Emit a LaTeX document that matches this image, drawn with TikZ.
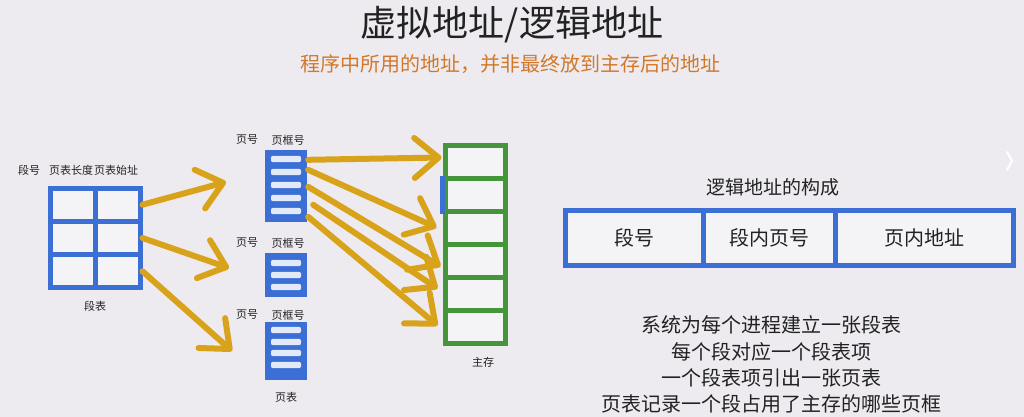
\documentclass[tikz,border=0pt]{standalone}
\usepackage{fontspec}
\setmainfont{Noto Sans CJK SC}
\usetikzlibrary{arrows.meta,calc}

\definecolor{bg}{HTML}{EDEBEF}
\definecolor{sblue}{HTML}{3B6FD6}
\definecolor{sgreen}{HTML}{45963A}
\definecolor{syellow}{HTML}{D8A31A}
\definecolor{sorange}{HTML}{D2782A}
\definecolor{ink}{HTML}{222222}

\begin{document}
\begin{tikzpicture}[x=1pt,y=-1pt,
  lbl/.style={font=\fontsize{11}{13}\selectfont, text=ink, inner sep=0},
  body/.style={font=\fontsize{20}{24}\selectfont, text=ink, inner sep=0},
  segcell/.style={draw=sblue, line width=5pt, minimum width=45pt, minimum height=33.3pt, inner sep=0, fill=white!40!bg},
  ptab/.style={fill=sblue, inner sep=0, minimum width=42pt},
  slot/.style={fill=white!85!sblue, rounded corners=2pt},
  frame/.style={draw=sgreen, line width=5pt, minimum width=60pt, minimum height=33pt, inner sep=0, fill=white!40!bg},
  addrbox/.style={draw=sblue, line width=5pt, minimum height=55pt, inner sep=0, fill=white!40!bg, font=\fontsize{20}{24}\selectfont, text=ink},
  yarrow/.style={draw=syellow, line width=6pt, line cap=round, line join=round,
     -{Straight Barb[length=24pt,width=40pt,round]}},
]
\useasboundingbox (0,0) rectangle (1024,417);
\fill[bg] (0,0) rectangle (1024,417);

% title
\node[font=\fontsize{36}{40}\selectfont, text=ink, inner sep=0] (title) at (512,25) {虚拟地址/逻辑地址};
\node[font=\fontsize{20}{24}\selectfont, text=sorange, inner sep=0] (subtitle) at (510,64) {程序中所用的地址，并非最终放到主存后的地址};

% segment table
\node[segcell] (s11) at (72.5,204.7) {};
\node[segcell] (s12) at (117.5,204.7) {};
\node[segcell] (s21) at (72.5,238) {};
\node[segcell] (s22) at (117.5,238) {};
\node[segcell] (s31) at (72.5,271.3) {};
\node[segcell] (s32) at (117.5,271.3) {};
\node[lbl] (lsn) at (29,170) {段号};
\node[lbl] (lplen) at (71,170) {页表长度};
\node[lbl] (lpadr) at (116,170) {页表始址};
\node[lbl] (lseg) at (95,306) {段表};

% page tables
\node[ptab, minimum height=72pt] (pt1) at (286,186) {};
\node[ptab, minimum height=44pt] (pt2) at (286,275) {};
\node[ptab, minimum height=58pt] (pt3) at (286,351) {};
\foreach \y in {159,172,185,198,211}{\fill[slot] (271,\y-3.2) rectangle (301,\y+3.2);}
\foreach \y in {263,275,287}{\fill[slot] (271,\y-3.2) rectangle (301,\y+3.2);}
\foreach \y in {330,342,353,365}{\fill[slot] (271,\y-3.2) rectangle (301,\y+3.2);}
\node[lbl] (pn1) at (247,140) {页号};
\node[lbl] (pf1) at (288,140) {页框号};
\node[lbl] (pn2) at (247,243) {页号};
\node[lbl] (pf2) at (288,243) {页框号};
\node[lbl] (pn3) at (247,315) {页号};
\node[lbl] (pf3) at (288,315) {页框号};
\node[lbl] (lpt) at (286,397) {页表};

% main memory
\foreach \i in {1,...,6}{
  \node[frame] (m\i) at (475,{161.5+33*(\i-1)}) {};
}
\draw[sblue, line width=5pt] (m2.north west) -- (m2.south west);
\node[lbl] (lmem) at (483,362) {主存};

% arrows from segment table
\coordinate (t1) at (226,182);
\coordinate (t2) at (229,268);
\coordinate (t3) at (232,351);
\draw[yarrow] (s12.east) -- (t1);
\draw[yarrow] (s22.east) -- (t2);
\draw[yarrow] (s32.east) -- (t3);

% arrows from page table 1 to frames
\draw[yarrow] ($(pt1.north east)+(1,10)$) -- ($(m1.west)+(-1,-4)$);
\draw[yarrow] ($(pt1.north east)+(1,20)$) -- ($(m3.west)+(-6,0)$);
\draw[yarrow] ($(pt1.north east)+(1,37)$) -- ($(m4.west)+(-2,6)$);
\draw[yarrow] ($(pt1.north east)+(6,55)$) -- ($(m5.west)+(-5,-5)$);
\draw[yarrow] ($(pt1.north east)+(1,67)$) -- ($(m6.west)+(-5,-1)$);

% logical address structure
\node[font=\fontsize{19}{23}\selectfont, text=ink, inner sep=0] (ltitle) at (773,187) {逻辑地址的构成};
\node[addrbox, minimum width=138pt] (a1) at (634,237.5) {段号};
\node[addrbox, minimum width=132pt] (a2) at (769,237.5) {段内页号};
\node[addrbox, minimum width=178pt] (a3) at (924,237.5) {页内地址};

% explanation
\node[body] (e1) at (771,325) {系统为每个进程建立一张段表};
\node[body] (e2) at (771,352) {每个段对应一个段表项};
\node[body] (e3) at (771,378) {一个段表项引出一张页表};
\node[body] (e4) at (771,404) {页表记录一个段占用了主存的哪些页框};

% next chevron
\draw[white, line width=2pt, line cap=round, line join=round] (1007,152) -- (1012,161) -- (1007,170);
\end{tikzpicture}
\end{document}
